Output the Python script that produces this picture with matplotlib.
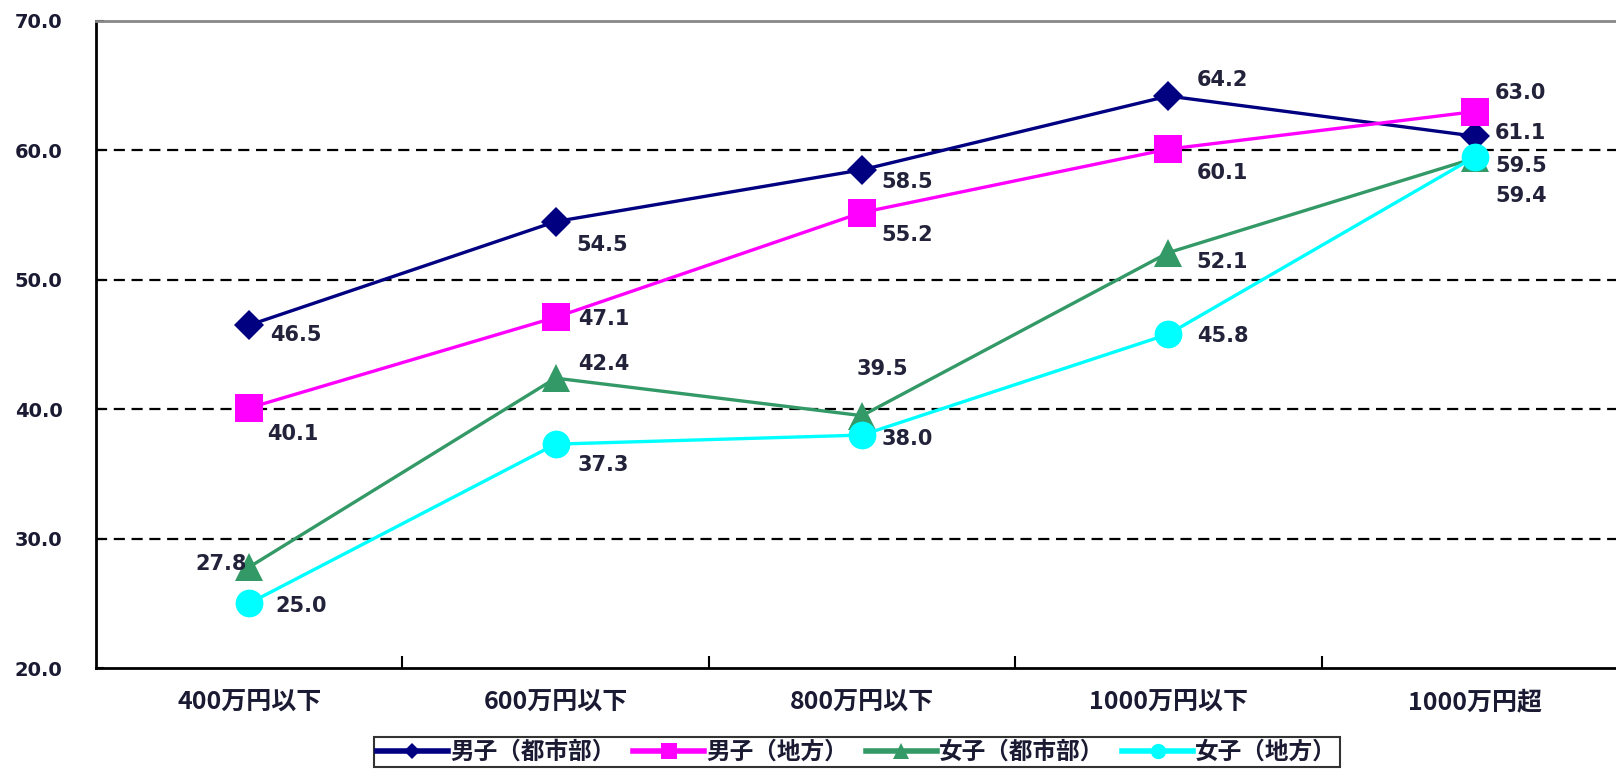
import matplotlib
matplotlib.use("Agg")
import matplotlib.pyplot as plt
from matplotlib.lines import Line2D

plt.rcParams['font.family'] = ['DejaVu Sans', 'Noto Sans CJK JP']

# Household income brackets
categories = ["400万円以下", "600万円以下", "800万円以下", "1000万円以下", "1000万円超"]

# Rates per group (%)
series_names = ["男子（都市部）", "男子（地方）", "女子（都市部）", "女子（地方）"]
boys_urban = [46.5, 54.5, 58.5, 64.2, 61.1]
boys_rural = [40.1, 47.1, 55.2, 60.1, 63.0]
girls_urban = [27.8, 42.4, 39.5, 52.1, 59.4]
girls_rural = [25.0, 37.3, 38.0, 45.8, 59.5]

y_ticks = [20.0, 30.0, 40.0, 50.0, 60.0, 70.0]

# Styles
colors = ["#000080", "#FF00FF", "#339966", "#00FFFF"]
markers = ["D", "s", "^", "o"]
msizes = [15, 20, 20, 20]

# Label offsets in pixels (dx, dy) per series and point
label_offsets = [
    [(47, -10), (47, -23), (45, -12), (54, 16), (46, 3)],
    [(44, -26), (48, -2), (45, -22), (54, -24), (46, 19)],
    [(-28, 3), (48, 14), (20, 47), (54, -9), (46, -38)],
    [(52, -3), (48, -21), (45, -4), (54, -2), (46, -9)],
]

fig = plt.figure(figsize=(16.16, 7.69), dpi=100)
ax = fig.add_axes([96 / 1616, 101 / 769, 1532 / 1616, 647 / 769])

x = list(range(len(categories)))
all_series = [boys_urban, boys_rural, girls_urban, girls_rural]

for i, vals in enumerate(all_series):
    ax.plot(x, vals, color=colors[i], marker=markers[i], markersize=msizes[i],
            linewidth=2.4, markeredgewidth=0, zorder=3 + i, clip_on=False)

for i, vals in enumerate(all_series):
    for j, v in enumerate(vals):
        dx, dy = label_offsets[i][j]
        ax.annotate(f"{v:.1f}", (x[j], v), xytext=(dx, dy), textcoords="offset pixels",
                    ha="center", va="center", fontsize=15, fontweight="bold",
                    color="#22223a", family="DejaVu Sans", zorder=10)

ax.set_xlim(-0.5, len(categories) - 0.5)
ax.set_ylim(20, 70)

# Dashed gridlines
for yv in y_ticks[1:-1]:
    ax.axhline(yv, color="black", linestyle=(0, (5, 3)), linewidth=1.6, zorder=1)

ax.set_yticks(y_ticks)
ax.set_yticklabels([f"{v:.1f}" for v in y_ticks], fontsize=14, fontweight="bold",
                   color="#1a1a33", family="DejaVu Sans")
ax.tick_params(axis="y", direction="in", length=6, width=1.5, pad=24, colors="black",
               labelcolor="#1a1a33")

# Boundary ticks on x, labels centred in each category
ax.set_xticks([k + 0.5 for k in range(len(categories) - 1)])
ax.set_xticklabels([])
ax.tick_params(axis="x", which="major", direction="in", length=9, width=1.5)
ax.set_xticks(x, minor=True)
ax.set_xticklabels(categories, minor=True, fontsize=18, fontweight="bold",
                   color="#1a1a33", family=["Noto Sans CJK JP"])
ax.tick_params(axis="x", which="minor", length=0, pad=16)

for side in ["left", "bottom"]:
    ax.spines[side].set_linewidth(2)
    ax.spines[side].set_color("black")
ax.spines["top"].set_color("#888888")
ax.spines["top"].set_linewidth(2)
ax.spines["right"].set_visible(False)

handles = [Line2D([0], [0], color=colors[i], marker=markers[i], linewidth=4,
                  markersize=msizes[i] * 0.55, markeredgewidth=0)
           for i in range(4)]
leg = fig.legend(handles, series_names, loc="lower center",
                 bbox_to_anchor=(857 / 1616, 0.0), ncol=4, frameon=True,
                 fancybox=False, edgecolor="black", borderaxespad=0.1,
                 prop={"family": ["Noto Sans CJK JP"], "size": 17, "weight": "bold"},
                 handlelength=3.0, handletextpad=0.1, columnspacing=0.75,
                 borderpad=0.12)
leg.get_frame().set_linewidth(1.5)
for t in leg.get_texts():
    t.set_color("#1a1a33")

fig.savefig("out.png", dpi=100)
